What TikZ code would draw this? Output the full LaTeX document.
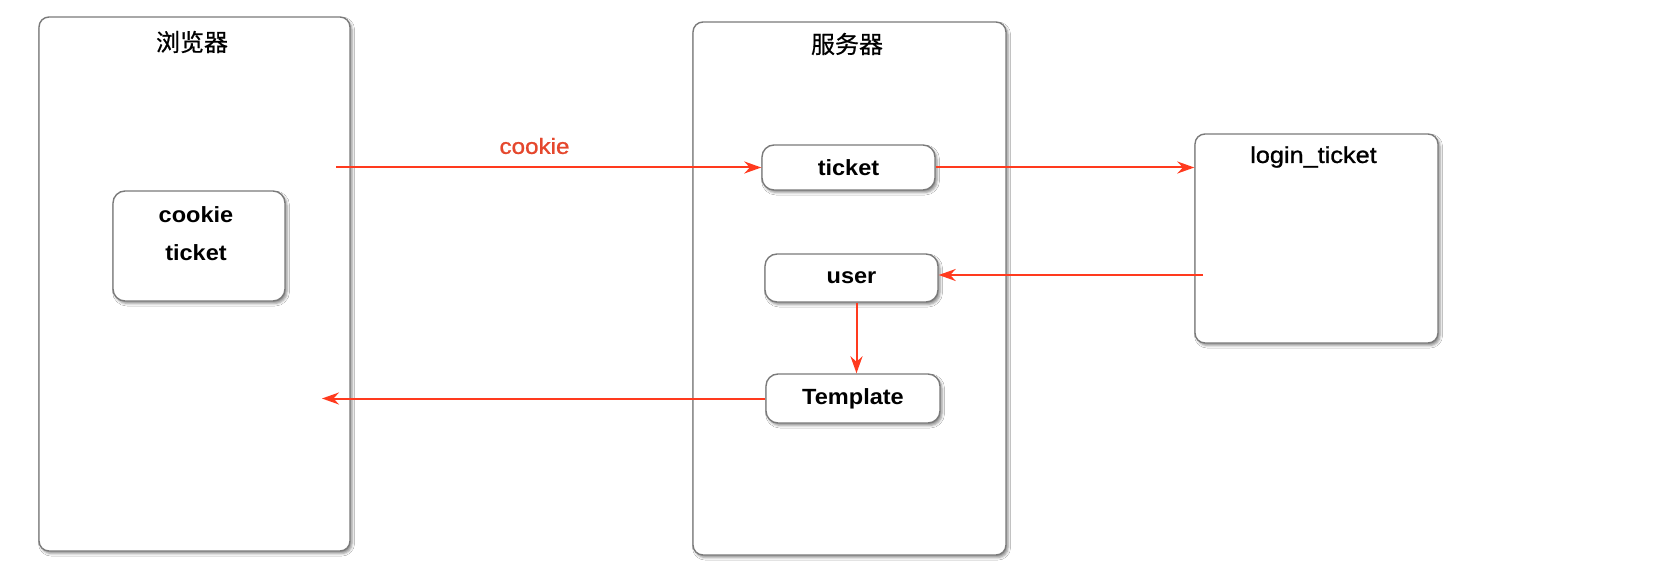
\documentclass[tikz,border=0pt]{standalone}
\usepackage{fontspec}
\setmainfont{Liberation Sans}
\newfontfamily\bsans{Liberation Sans Bold}[FakeStretch=1.07]
\newfontfamily\cjk{Noto Sans CJK SC}[FakeBold=0.6]
\newfontfamily\lbl{Liberation Sans}[FakeStretch=1.1,FakeBold=1]
\usetikzlibrary{shadows.blur,arrows.meta,calc}
\definecolor{arrowred}{HTML}{FF3A1E}
\definecolor{boxgray}{HTML}{7A7A7A}
\definecolor{labelred}{HTML}{E5472D}
\tikzset{
  frame/.style={draw=boxgray, line width=1.4pt, rounded corners=10pt, fill=white, inner sep=0pt,
    blur shadow={shadow xshift=2pt, shadow yshift=-2.5pt, shadow blur radius=2.5pt, shadow opacity=45}},
  item/.style={frame, rounded corners=12pt},
  txt/.style={font=\bsans\fontsize{22}{26}\selectfont, inner sep=0pt},
  title/.style={font=\cjk\fontsize{24}{28}\selectfont, inner sep=0pt},
  flow/.style={draw=arrowred, line width=2pt, -{Stealth[length=17pt,width=12pt]}},
}
\begin{document}
\begin{tikzpicture}[x=1pt,y=-1pt]
\useasboundingbox[fill=white] (0,0) rectangle (1655,580);
% containers
\node[frame, minimum width=311pt, minimum height=534pt] (browser) at (194.5,284) {};
\node[frame, minimum width=313pt, minimum height=533pt] (server) at (849.5,288.5) {};
\node[frame, minimum width=243pt, minimum height=209pt] (login) at (1316.5,238.5) {};
\node[title] (bt) at (192,42) {浏览器};
\node[title] (st) at (847,44) {服务器};
\node[font=\lbl\fontsize{23}{27}\selectfont, inner sep=0pt] (lt) at (1313.5,157) {login\_ticket};
% browser store
\node[item, minimum width=172pt, minimum height=110pt] (store) at (199,246) {};
\node[txt] (ck) at (196,215) {cookie};
\node[txt] (tk) at (196,253) {ticket};
% server items
\node[item, minimum width=173pt, minimum height=45pt] (ticket) at (848.5,167.5) {};
\node[txt] (ticketlbl) at (ticket) {ticket};
\node[item, minimum width=173pt, minimum height=48pt] (user) at (851.5,278) {};
\node[txt] (userlbl) at (user) {user};
\node[item, minimum width=174pt, minimum height=49pt] (Template) at (853,398.5) {};
\node[txt] (templbl) at (Template) {Template};
% label
\node[text=labelred, font=\lbl\fontsize{22}{26}\selectfont, inner sep=0pt] (cl) at (534.5,146) {cookie};
% connectors
\coordinate (c1) at (336,167.5);
\draw[flow] (c1) -- (c1 -| ticket.west);
\draw[flow] (ticket.east) -- (ticket.east -| login.west);
\coordinate (l3) at (1203,275);
\draw[flow] (l3) -- (l3 -| user.east);
\draw[flow] ([xshift=5pt]user.south) -- ([xshift=5pt]user.south |- Template.north);
\coordinate (b5) at (322,398.5);
\draw[flow] (Template.west) -- (b5);
\end{tikzpicture}
\end{document}
